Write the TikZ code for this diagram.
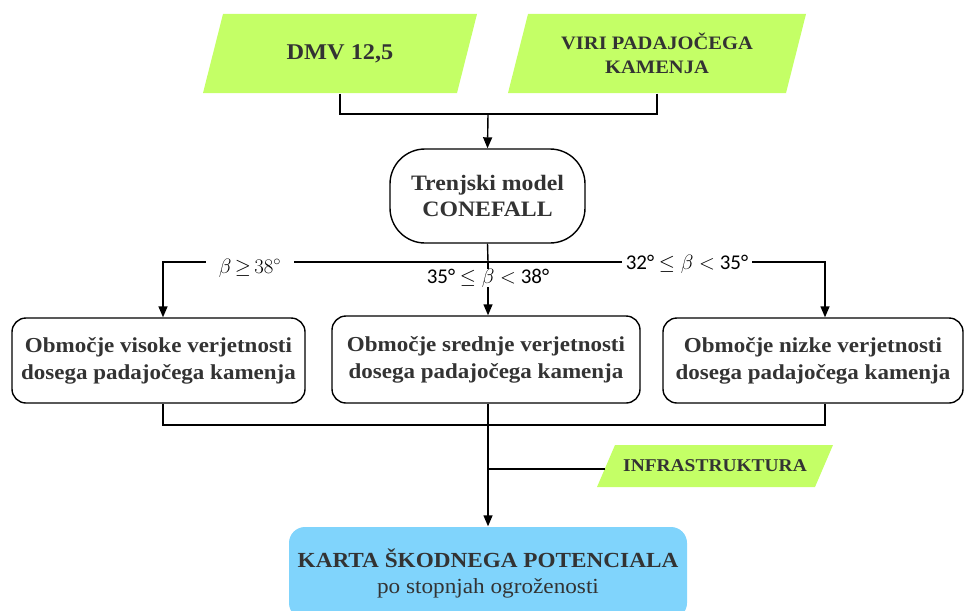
\documentclass[tikz,border=0pt]{standalone}
\usepackage{fontspec}
\setmainfont[FakeStretch=1.08]{Liberation Serif}
\newfontfamily\lblfont{Carlito}
\usetikzlibrary{arrows.meta,calc}
\definecolor{limefill}{HTML}{C4FF66}
\definecolor{bluefill}{HTML}{80D4FC}
\definecolor{txt}{HTML}{333333}
\begin{document}
\begin{tikzpicture}[x=1pt,y=-1pt,line width=1.4pt,
  io/.style={inner sep=0pt,align=center,text=txt,
    font=\fontsize{19}{24}\selectfont\bfseries,
    path picture={\fill[limefill]
      ($(path picture bounding box.north west)+(#1,0)$) --
      (path picture bounding box.north east) --
      ($(path picture bounding box.south east)+(-#1,0)$) --
      (path picture bounding box.south west) -- cycle;}},
  procbox/.style={draw,fill=white,rounded corners=14pt,align=center,text=txt,
    inner sep=0pt,font=\fontsize{21.3}{27}\selectfont\bfseries},
  arr/.style={-{Triangle[length=11pt,width=9pt]}},
  lbl/.style={fill=white,inner ysep=1pt,font=\fontsize{21}{24}\selectfont}]
\useasboundingbox (0,0) rectangle (968,610);

% inputs
\node[io=20,minimum width=274pt,minimum height=79pt,font=\fontsize{22.5}{26}\selectfont\bfseries] (dmv) at (340,53.5) {DMV 12,5};
\node[io=20,minimum width=298pt,minimum height=79pt] (viri) at (657,53.5) {VIRI PADAJOČEGA\\KAMENJA};

\node[draw,fill=white,rounded corners=35pt,minimum width=195pt,minimum height=94pt,
  align=center,text=txt,inner sep=0pt,font=\fontsize{22}{26}\selectfont\bfseries] (tren) at (487.5,196) {Trenjski model\\CONEFALL};

\coordinate (j1) at (488,114);
\draw (dmv.south) |- (j1);
\draw (viri.south) |- (j1);
\draw[arr] (j1) -- (tren.north);

% three classes
\node[procbox,minimum width=293pt,minimum height=85pt] (left) at (158.5,360.5) {Območje visoke verjetnosti\\dosega padajočega kamenja};
\node[procbox,minimum width=308pt,minimum height=87pt] (mid) at (486,359.5) {Območje srednje verjetnosti\\dosega padajočega kamenja};
\node[procbox,minimum width=300pt,minimum height=85pt] (right) at (813,360.5) {Območje nizke verjetnosti\\dosega padajočega kamenja};

\coordinate (j2) at (488,262);
\draw (tren.south) -- (j2);
\draw[arr] (j2) -| ([xshift=4.5pt]left.north);
\draw[arr] (j2) -| ([xshift=12pt]right.north);
\draw[arr] (j2) -- ([xshift=2pt]mid.north);

\node[lbl,inner xsep=13pt] (l1) at (250,268) {$\beta\,{\geq}\,38^{\circ}$};
\node[lbl,inner xsep=4pt] (l3) at (687,264) {\lblfont 32° $\leq\beta<$ 35°};
\node[lbl,inner xsep=0pt,inner ysep=0pt] (l2) at (488,278) {\lblfont 35° $\leq\beta<$ 38°};

% infrastructure
\node[io=18,minimum width=236pt,minimum height=42pt,font=\fontsize{18}{20}\selectfont\bfseries] (infra) at (715,466) {INFRASTRUKTURA};

\node[fill=bluefill,rounded corners=16pt,minimum width=398pt,minimum height=92pt,
  align=center,text=txt,inner sep=0pt,font=\fontsize{21.5}{26}\selectfont] (karta) at (488,573)
  {\bfseries KARTA ŠKODNEGA POTENCIALA\\
   \mdseries po stopnjah ogroženosti};

\coordinate (j3) at (488,425);
\coordinate (ij) at ([xshift=9pt,yshift=-3pt]infra.west);
\draw ([xshift=4.5pt]left.south) |- (j3);
\draw ([xshift=12pt]right.south) |- (j3);
\draw ([xshift=2pt]mid.south) -- (j3);
\draw (ij) -- (j3 |- ij);
\draw[arr] (j3) -- (karta.north);
\end{tikzpicture}
\end{document}
